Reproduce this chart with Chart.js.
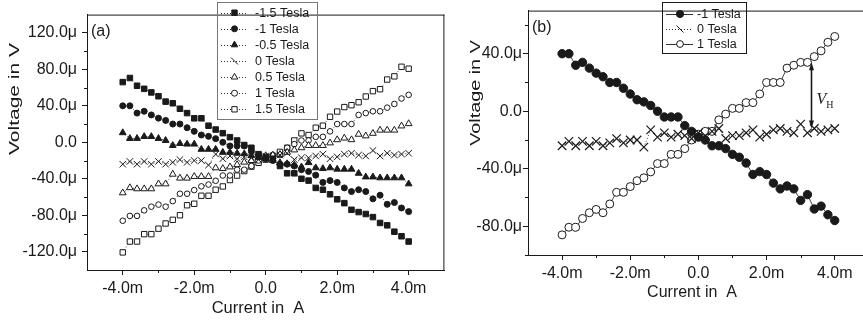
<!DOCTYPE html>
<html>
<head>
<meta charset="utf-8">
<script src="https://cdn.jsdelivr.net/npm/chart.js@4.4.1/dist/chart.umd.min.js"></script>
<style>
  html, body { margin: 0; padding: 0; background: #fff; overflow: hidden; }
  #wrap { position: relative; width: 863px; height: 322px; overflow: hidden; }
  #panelA { position: absolute; left: 0; top: 0; }
  #panelB { position: absolute; left: 450px; top: 0; }
</style>
</head>
<body>
<div id="wrap">
  <canvas id="panelA" width="450" height="322" style="width:450px;height:322px"></canvas>
  <canvas id="panelB" width="426" height="322" style="width:426px;height:322px"></canvas>
</div>
<script>
// current in mA, voltage in µV
const currents = [-4.0, -3.8, -3.6, -3.4, -3.2, -3.0, -2.8, -2.6, -2.4, -2.2, -2.0,
  -1.8, -1.6, -1.4, -1.2, -1.0, -0.8, -0.6, -0.4, -0.2, 0.0,
  0.2, 0.4, 0.6, 0.8, 1.0, 1.2, 1.4, 1.6, 1.8, 2.0,
  2.2, 2.4, 2.6, 2.8, 3.0, 3.2, 3.4, 3.6, 3.8, 4.0];

const vMinus15 = [66, 70.5, 62, 58.6, 54.7, 50.5, 44.6, 42.8, 36.8, 32, 26.3,
  26.3, 18.2, 14, 10, 5.6, 2, -3, -6, -13, -16,
  -18, -26, -34, -34, -40, -42, -50, -52, -57, -62.5,
  -66.7, -74, -76.5, -78.6, -82, -88.4, -91, -98, -103, -108.8];

const vMinus1 = [40, 40, 32, 34, 30, 26.5, 24, 20, 20, 16, 12,
  8, 6.5, 4, 0, -4, -4, -4, -10, -14, -18,
  -20, -24, -24, -26, -30, -32, -36, -44, -42, -44,
  -50, -54, -52, -54, -62, -58, -68, -66, -72, -76];

const vMinus05 = [10.5, 4.2, 4.2, 6.3, 6.3, 4.2, 2, -3.5, -1.4, -2, -2,
  -7.7, -7.7, -7.7, -11, -11, -12, -12.6, -14.7, -16.5, -18,
  -20, -22.5, -23.5, -25, -27, -22.3, -28, -28.8, -28, -29.5,
  -29.5, -29.5, -34, -38, -38, -39, -39, -39, -39, -45.6];

const vZero = [-24, -21, -24, -21, -24, -21, -24, -22, -19, -22, -20,
  -20, -25, -13, -18, -15, -18, -16, -17, -19, -15,
  -17, -14, -12, -19, -17, -17, -15, -13, -18, -16,
  -13, -12, -14, -15, -9, -15, -12, -14, -13, -12];

const vPlus05 = [-55.4, -49.8, -51, -51, -51, -45.6, -45.6, -35, -39.3, -39.3, -37.5,
  -37.5, -37.5, -28, -28.8, -27, -24.5, -21.8, -20, -16.5, -14.7,
  -14, -13.3, -11, -8.4, -6, -3.5, -3.5, -3.5, -0.7, 2.8,
  4.6, 2.8, 8.8, 7, 9.8, 13.3, 13.3, 13.3, 17.9, 20.4];

const vPlus1 = [-86, -80.7, -80.7, -74.6, -70.6, -68.3, -70.6, -64.5, -56.4, -56.4, -52.4,
  -48.3, -46.3, -42.2, -36.4, -36.4, -30, -30, -26, -20, -16,
  -14, -14, -6, -2, 2, 2, 6, 6, 12, 20,
  20, 20, 30, 32, 34, 34, 38, 42, 48, 52];

const vPlus15 = [-120.7, -108.8, -108.8, -100.7, -100.7, -94.7, -89, -85, -80, -69, -67.4,
  -58.6, -58.6, -52, -48.4, -41.4, -36.5, -31.6, -26.7, -22.5, -19,
  -14.7, -10.5, -6, 2, 9.8, 8, 16, 18.2, 28, 33.7,
  38.6, 40.7, 43.9, 50.2, 56.1, 58.2, 68.8, 72.3, 82.8, 80.7];

// tick positions
const xMajor = [-4, -2, 0, 2, 4];
const xMinor = [-3, -1, 1, 3];
const yMajorA = [-120, -80, -40, 0, 40, 80, 120];
const yMinorA = [-100, -60, -20, 20, 60, 100];
const yMajorB = [-80, -40, 0, 40];
const yMinorB = [-100, -60, -20, 20, 60];

// V_H arrow between the 1 T and 0 T curves
const hallCurrent = 3.3;
const hallTop = 34;
const hallBottom = -12;

const sans = '"Liberation Sans", Arial, sans-serif';
const ink = '#1a1a1a';

function seriesData(ys) {
  return currents.map((x, i) => ({ x: x, y: ys[i] }));
}

function dataset(label, ys, style, filled, r, dashed, bw) {
  return {
    label: label,
    data: seriesData(ys),
    showLine: true,
    borderColor: '#444',
    borderWidth: 1,
    borderDash: dashed ? [1, 2] : [],
    pointStyle: style,
    pointRadius: r,
    pointBorderWidth: bw || 1,
    pointBorderColor: ink,
    pointBackgroundColor: filled ? ink : '#fff'
  };
}

// markers for the boxed legends, same geometry as chart.js point styles
function drawMarker(ctx, style, x, y, r, filled) {
  ctx.beginPath();
  let closed = true;
  if (style === 'rect') {
    const s = r * Math.SQRT1_2;
    ctx.rect(x - s, y - s, 2 * s, 2 * s);
  } else if (style === 'circle') {
    ctx.arc(x, y, r, 0, Math.PI * 2);
  } else if (style === 'triangle') {
    for (let k = 0; k < 3; k++) {
      const a = k * 2 * Math.PI / 3;
      const px = x + Math.sin(a) * r, py = y - Math.cos(a) * r;
      if (k === 0) ctx.moveTo(px, py); else ctx.lineTo(px, py);
    }
    ctx.closePath();
  } else if (style === 'backslash') {
    ctx.moveTo(x - r, y - r);
    ctx.lineTo(x + r, y + r);
    closed = false;
  }
  if (closed) {
    ctx.fillStyle = filled ? ink : '#fff';
    ctx.fill();
  }
  ctx.strokeStyle = ink;
  ctx.lineWidth = 1;
  ctx.stroke();
}

// axis title, optionally rotated and widened along the text
function drawTitle(ctx, t) {
  ctx.save();
  ctx.translate(t.x, t.y);
  if (t.vertical) ctx.rotate(-Math.PI / 2);
  ctx.scale(t.stretch, 1);
  ctx.font = t.size + 'px ' + sans;
  ctx.fillStyle = ink;
  ctx.textAlign = 'center';
  ctx.textBaseline = 'middle';
  ctx.fillText(t.text, 0, 0);
  ctx.restore();
}

const panelDecor = {
  id: 'panelDecor',
  afterDraw(chart, args, opts) {
    const { ctx, chartArea: a, scales } = chart;
    ctx.save();
    ctx.strokeStyle = ink;
    ctx.lineWidth = 1;

    // top / right frame
    ctx.beginPath();
    ctx.moveTo(a.left, a.top + 0.5);
    ctx.lineTo(a.right, a.top + 0.5);
    if (opts.rightBorder) {
      ctx.moveTo(a.right - 0.5, a.top);
      ctx.lineTo(a.right - 0.5, a.bottom);
    }
    ctx.stroke();

    // minor ticks
    ctx.beginPath();
    opts.minorX.forEach(v => {
      const px = Math.round(scales.x.getPixelForValue(v)) + 0.5;
      ctx.moveTo(px, a.bottom);
      ctx.lineTo(px, a.bottom + 3);
    });
    opts.minorY.forEach(v => {
      const py = Math.round(scales.y.getPixelForValue(v)) + 0.5;
      ctx.moveTo(a.left, py);
      ctx.lineTo(a.left - 3, py);
    });
    ctx.stroke();

    opts.titles.forEach(t => drawTitle(ctx, t));

    // panel tag
    ctx.fillStyle = ink;
    ctx.font = '16px ' + sans;
    ctx.textBaseline = 'alphabetic';
    ctx.textAlign = 'left';
    ctx.fillText(opts.tag, a.left + 4, a.top + 21);

    // boxed legend
    const lg = opts.legend;
    ctx.strokeStyle = lg.border;
    ctx.strokeRect(lg.x + 0.5, lg.y + 0.5, lg.w, lg.h);
    ctx.font = '12.5px ' + sans;
    ctx.textBaseline = 'middle';
    lg.items.forEach((it, i) => {
      const y = lg.firstY + i * lg.stepY;
      ctx.strokeStyle = '#333';
      ctx.lineWidth = 1;
      ctx.setLineDash(it.dashed ? [1, 2] : []);
      ctx.beginPath();
      ctx.moveTo(lg.lineX0, Math.round(y) + 0.5);
      ctx.lineTo(lg.lineX1, Math.round(y) + 0.5);
      ctx.stroke();
      ctx.setLineDash([]);
      drawMarker(ctx, it.style, lg.markX, y, it.r, it.filled);
      ctx.fillStyle = ink;
      ctx.fillText(it.label, lg.textX, y + 0.5);
    });

    // Hall voltage arrow
    if (opts.hall) {
      const ax = Math.round(scales.x.getPixelForValue(opts.hall.x)) + 0.5;
      const y1 = scales.y.getPixelForValue(opts.hall.top);
      const y2 = scales.y.getPixelForValue(opts.hall.bottom);
      ctx.strokeStyle = ink;
      ctx.fillStyle = ink;
      ctx.lineWidth = 1.6;
      ctx.beginPath();
      ctx.moveTo(ax, y1 + 6);
      ctx.lineTo(ax, y2 - 6);
      ctx.stroke();
      ctx.beginPath();
      ctx.moveTo(ax, y1); ctx.lineTo(ax - 2.5, y1 + 8); ctx.lineTo(ax + 2.5, y1 + 8); ctx.closePath();
      ctx.moveTo(ax, y2); ctx.lineTo(ax - 2.5, y2 - 8); ctx.lineTo(ax + 2.5, y2 - 8); ctx.closePath();
      ctx.fill();
      const ly = (y1 + y2) / 2 + 9;
      ctx.textBaseline = 'alphabetic';
      ctx.font = 'italic 16px "Liberation Serif", serif';
      ctx.fillText('V', ax + 5, ly);
      const vw = ctx.measureText('V').width;
      ctx.font = '10px "Liberation Serif", serif';
      ctx.fillText('H', ax + 5 + vw, ly + 4);
    }
    ctx.restore();
  }
};

function xAxis(max, height) {
  return {
    type: 'linear',
    min: -5,
    max: max,
    afterFit: s => { s.height = height; },
    afterBuildTicks: s => { s.ticks = xMajor.map(v => ({ value: v })); },
    grid: { display: true, drawOnChartArea: false, drawTicks: true, tickLength: 5, color: ink },
    border: { display: true, color: ink, width: 1 },
    ticks: {
      color: ink, padding: 4, maxRotation: 0, autoSkip: false,
      font: { family: sans, size: 16 },
      callback: v => v === 0 ? '0.0' : v.toFixed(1) + 'm'
    }
  };
}

function yAxis(min, max, majors, width, tickPad) {
  return {
    type: 'linear',
    min: min,
    max: max,
    afterFit: s => { s.width = width; },
    afterBuildTicks: s => { s.ticks = majors.map(v => ({ value: v })); },
    grid: { display: true, drawOnChartArea: false, drawTicks: true, tickLength: 5, color: ink },
    border: { display: true, color: ink, width: 1 },
    ticks: {
      color: ink, padding: tickPad, autoSkip: false,
      font: { family: sans, size: 16 },
      callback: v => v === 0 ? '0.0' : v.toFixed(1) + 'μ'
    }
  };
}

// (a) all field strengths
new Chart(document.getElementById('panelA'), {
  type: 'scatter',
  data: {
    datasets: [
      dataset('-1.5 Tesla', vMinus15, 'rect', true, 3.9, true),
      dataset('-1 Tesla', vMinus1, 'circle', true, 3, true),
      dataset('-0.5 Tesla', vMinus05, 'triangle', true, 3.9, true),
      dataset('0 Tesla', vZero, 'crossRot', false, 4.6, true),
      dataset('0.5 Tesla', vPlus05, 'triangle', false, 3.9, true),
      dataset('1 Tesla', vPlus1, 'circle', false, 2.8, true),
      dataset('1.5 Tesla', vPlus15, 'rect', false, 3.8, true)
    ]
  },
  options: {
    responsive: false,
    animation: false,
    layout: { padding: { left: 0, top: 2, right: 2, bottom: 0 } },
    plugins: {
      legend: { display: false },
      tooltip: { enabled: false },
      panelDecor: {
        tag: '(a)', rightBorder: true, minorX: xMinor, minorY: yMinorA,
        titles: [
          { text: 'Current in  A', x: 258, y: 308, size: 16.5, stretch: 1, vertical: false },
          { text: 'Voltage in V', x: 15, y: 99, size: 15, stretch: 1.4, vertical: true }
        ],
        legend: {
          x: 217, y: 2, w: 100, h: 117, border: '#777',
          firstY: 12.7, stepY: 16.1, lineX0: 221, lineX1: 248, markX: 234.5, textX: 255,
          items: [
            { label: '-1.5 Tesla', style: 'rect', filled: true, r: 3.8, dashed: true },
            { label: '-1 Tesla', style: 'circle', filled: true, r: 3, dashed: true },
            { label: '-0.5 Tesla', style: 'triangle', filled: true, r: 3.8, dashed: true },
            { label: '0 Tesla', style: 'backslash', filled: false, r: 3.5, dashed: true },
            { label: '0.5 Tesla', style: 'triangle', filled: false, r: 3.8, dashed: true },
            { label: '1 Tesla', style: 'circle', filled: false, r: 3, dashed: true },
            { label: '1.5 Tesla', style: 'rect', filled: false, r: 3.8, dashed: true }
          ]
        }
      }
    },
    scales: {
      x: xAxis(5, 52),
      y: yAxis(-140, 140, yMajorA, 87, 5)
    }
  },
  plugins: [panelDecor]
});

// (b) -1, 0 and 1 Tesla; the frame runs past the right edge of the page
new Chart(document.getElementById('panelB'), {
  type: 'scatter',
  data: {
    datasets: [
      dataset('-1 Tesla', vMinus1, 'circle', true, 4.2, false),
      dataset('0 Tesla', vZero, 'crossRot', false, 6, true, 1.2),
      dataset('1 Tesla', vPlus1, 'circle', false, 4, false)
    ]
  },
  options: {
    responsive: false,
    animation: false,
    layout: { padding: { left: 0, top: 2, right: 5, bottom: 0 } },
    plugins: {
      legend: { display: false },
      tooltip: { enabled: false },
      panelDecor: {
        tag: '(b)', rightBorder: true, minorX: xMinor, minorY: yMinorB,
        hall: { x: hallCurrent, top: hallTop, bottom: hallBottom },
        titles: [
          { text: 'Current in  A', x: 242, y: 293, size: 16, stretch: 1, vertical: false },
          { text: 'Voltage in V', x: 26, y: 93, size: 15, stretch: 1.32, vertical: true }
        ],
        legend: {
          x: 212, y: 2, w: 84, h: 51, border: ink,
          firstY: 14, stepY: 15, lineX0: 216, lineX1: 243, markX: 230, textX: 247,
          items: [
            { label: '-1 Tesla', style: 'circle', filled: true, r: 3.6, dashed: false },
            { label: '0 Tesla', style: 'backslash', filled: false, r: 3.5, dashed: true },
            { label: '1 Tesla', style: 'circle', filled: false, r: 3.4, dashed: false }
          ]
        }
      }
    },
    scales: {
      x: xAxis(5, 67),
      y: yAxis(-100, 70, yMajorB, 78, 1)
    }
  },
  plugins: [panelDecor]
});
</script>
</body>
</html>
